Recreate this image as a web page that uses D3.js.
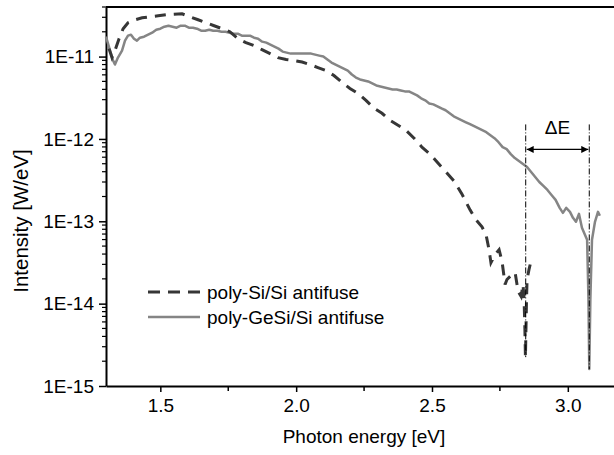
<!DOCTYPE html>
<html><head><meta charset="utf-8">
<script src="https://cdn.jsdelivr.net/npm/d3@7"></script>
<style>
html,body{margin:0;padding:0;background:#fff;}
svg{display:block;font-family:"Liberation Sans",Arial,Helvetica,sans-serif;}
</style></head>
<body>
<svg id="chart" width="614" height="455"></svg>
<script>
// ---- data ----
const xTicks = [1.5, 2.0, 2.5, 3.0];
const xTickLabels = ["1.5", "2.0", "2.5", "3.0"];
const xMinorTicks = [1.75, 2.25, 2.75];
const yTicks = [1e-11, 1e-12, 1e-13, 1e-14, 1e-15];
const yTickLabels = ["1E-11", "1E-12", "1E-13", "1E-14", "1E-15"];

const seriesNames = ["poly-Si/Si antifuse", "poly-GeSi/Si antifuse"];

// poly-Si/Si antifuse (dashed)
const siEnergy = [1.311,1.322,1.333,1.348,1.363,1.381,1.407,1.433,1.462,1.492,1.521,1.550,1.580,1.609,1.639,1.668,1.698,1.727,1.756,1.786,1.815,1.845,1.874,1.904,1.933,1.963,1.992,2.022,2.051,2.080,2.110,2.139,2.169,2.198,2.228,2.257,2.287,2.316,2.345,2.375,2.404,2.434,2.463,2.493,2.522,2.552,2.581,2.610,2.640,2.662,2.684,2.699,2.710,2.717,2.732,2.747,2.758,2.769,2.776,2.791,2.806,2.817,2.828,2.835,2.839,2.842,2.844,2.848,2.850,2.857,2.864];
const siIntensity = [1.249e-11,9.72e-12,1.182e-11,1.650e-11,2.180e-11,2.576e-11,2.800e-11,2.960e-11,3.044e-11,3.130e-11,3.218e-11,3.263e-11,3.308e-11,3.044e-11,2.800e-11,2.576e-11,2.369e-11,2.180e-11,2.005e-11,1.650e-11,1.476e-11,1.358e-11,1.215e-11,1.087e-11,9.72e-12,9.20e-12,8.95e-12,8.58e-12,8.00e-12,7.36e-12,6.77e-12,5.89e-12,4.85e-12,4.10e-12,3.57e-12,2.94e-12,2.35e-12,2.05e-12,1.685e-12,1.466e-12,1.276e-12,1.021e-12,7.95e-13,6.54e-13,5.09e-13,3.96e-13,3.09e-13,2.15e-13,1.377e-13,1.042e-13,8.58e-14,6.87e-14,4.52e-14,3.15e-14,3.94e-14,4.52e-14,3.24e-14,1.708e-14,1.963e-14,2.195e-14,2.385e-14,1.406e-14,1.224e-14,1.708e-14,1.125e-14,4.88e-15,2.24e-15,1.125e-14,1.963e-14,2.59e-14,3.24e-14];

// poly-GeSi/Si antifuse (solid)
const gesiEnergy = [1.300,1.315,1.326,1.333,1.344,1.359,1.370,1.381,1.392,1.403,1.414,1.425,1.440,1.455,1.470,1.485,1.500,1.515,1.530,1.545,1.560,1.575,1.590,1.605,1.620,1.635,1.650,1.665,1.680,1.695,1.710,1.725,1.740,1.755,1.770,1.785,1.800,1.815,1.830,1.845,1.860,1.875,1.890,1.905,1.920,1.935,1.950,1.965,1.980,1.995,2.010,2.025,2.040,2.055,2.070,2.085,2.100,2.115,2.130,2.145,2.160,2.175,2.190,2.205,2.220,2.235,2.250,2.265,2.280,2.295,2.310,2.325,2.340,2.355,2.370,2.385,2.400,2.415,2.430,2.445,2.460,2.475,2.490,2.505,2.520,2.535,2.550,2.565,2.580,2.595,2.610,2.625,2.640,2.655,2.670,2.685,2.700,2.715,2.730,2.745,2.760,2.775,2.790,2.805,2.820,2.835,2.850,2.865,2.880,2.895,2.910,2.925,2.940,2.955,2.970,2.982,2.994,3.008,3.019,3.030,3.041,3.052,3.063,3.071,3.076,3.079,3.083,3.089,3.100,3.111,3.118];
const gesiIntensity = [1.745e-11,1.182e-11,8.95e-12,8.00e-12,9.72e-12,1.182e-11,1.561e-11,1.794e-11,1.845e-11,1.650e-11,1.561e-11,1.697e-11,1.745e-11,1.845e-11,1.950e-11,2.120e-11,2.180e-11,2.304e-11,2.369e-11,2.304e-11,2.241e-11,2.369e-11,2.369e-11,2.241e-11,2.241e-11,2.180e-11,2.062e-11,2.062e-11,2.120e-11,2.062e-11,2.062e-11,2.005e-11,2.005e-11,1.950e-11,1.897e-11,1.897e-11,1.794e-11,1.794e-11,1.794e-11,1.697e-11,1.650e-11,1.518e-11,1.476e-11,1.396e-11,1.321e-11,1.249e-11,1.149e-11,1.118e-11,1.087e-11,1.087e-11,1.087e-11,1.087e-11,1.087e-11,1.087e-11,1.057e-11,1.028e-11,1.000e-11,9.20e-12,8.46e-12,8.00e-12,7.57e-12,7.16e-12,6.77e-12,6.06e-12,5.57e-12,5.27e-12,5.13e-12,4.99e-12,4.72e-12,4.46e-12,4.34e-12,4.22e-12,4.10e-12,3.99e-12,3.99e-12,3.88e-12,3.78e-12,3.78e-12,3.57e-12,3.38e-12,3.11e-12,2.94e-12,2.70e-12,2.63e-12,2.49e-12,2.35e-12,2.23e-12,2.05e-12,1.883e-12,1.781e-12,1.685e-12,1.594e-12,1.508e-12,1.426e-12,1.349e-12,1.276e-12,1.207e-12,1.110e-12,1.021e-12,9.13e-13,7.95e-13,7.52e-13,6.54e-13,5.85e-13,5.38e-13,4.95e-13,4.56e-13,3.96e-13,3.45e-13,3.00e-13,2.69e-13,2.40e-13,2.09e-13,1.819e-13,1.456e-13,1.267e-13,1.456e-13,1.302e-13,1.102e-13,9.86e-14,1.232e-13,8.35e-14,6.87e-14,5.97e-14,1.125e-14,1.605e-15,1.125e-14,5.97e-14,9.86e-14,1.302e-13,1.165e-13];

// ΔE annotation
const deltaE = [2.845, 3.079];
const deltaETop = 1.5e-12;
const deltaEBottom = [2.24e-15, 1.605e-15];
const deltaEArrowY = 7.46e-13;
const deltaELabel = "ΔE";

const xLabel = "Photon energy [eV]";
const yLabel = "Intensity [W/eV]";

// ---- chart ----
const svg = d3.select("#chart");
const mLeft = 106, mRight = 614, mTop = 7, mBottom = 386;
const x = d3.scaleLinear().domain([1.3, 3.17]).range([mLeft, mRight]);
const y = d3.scaleLog().domain([1e-15, 4e-11]).range([mBottom, mTop]);

const fs = 19;
const ff = "Liberation Sans, Arial, sans-serif";

// x axis
const xAxis = d3.axisBottom(x).tickValues(xTicks).tickFormat((d,i)=>xTickLabels[i]).tickSize(6).tickPadding(7).tickSizeOuter(0);
const gx = svg.append("g").attr("transform",`translate(0,${mBottom})`).call(xAxis);
gx.select(".domain").attr("stroke","#000").attr("stroke-width",2);
gx.selectAll(".tick line").attr("stroke","#000").attr("stroke-width",1.5);
gx.selectAll(".tick text").attr("font-size",fs).attr("fill","#000").attr("font-family",ff);
gx.selectAll(".minor").data(xMinorTicks).enter().append("line")
  .attr("x1",d=>x(d)).attr("x2",d=>x(d)).attr("y1",0).attr("y2",5)
  .attr("stroke","#000").attr("stroke-width",1.5);

// y axis
const yAxis = d3.axisLeft(y).tickValues(yTicks).tickFormat((d,i)=>yTickLabels[i]).tickSize(7).tickPadding(5).tickSizeOuter(0);
const gy = svg.append("g").attr("transform",`translate(${mLeft},0)`).call(yAxis);
gy.select(".domain").attr("stroke","#000").attr("stroke-width",2);
gy.selectAll(".tick line").attr("stroke","#000").attr("stroke-width",1.5);
gy.selectAll(".tick text").attr("font-size",fs).attr("fill","#000").attr("font-family",ff);
const yMinor = y.ticks().filter(d => Math.abs(Math.log10(d) - Math.round(Math.log10(d))) > 1e-6);
gy.selectAll(".minor").data(yMinor).enter().append("line")
  .attr("x1",-4).attr("x2",0).attr("y1",d=>y(d)).attr("y2",d=>y(d))
  .attr("stroke","#000").attr("stroke-width",1.2);

// top border
svg.append("line").attr("x1",mLeft).attr("x2",mRight).attr("y1",mTop).attr("y2",mTop)
  .attr("stroke","#000").attr("stroke-width",2);

// curves
const siData = siEnergy.map((e,i)=>[e, siIntensity[i]]);
const gesiData = gesiEnergy.map((e,i)=>[e, gesiIntensity[i]]);
const line = d3.line().x(d=>x(d[0])).y(d=>y(d[1]));

svg.append("path").datum(gesiData).attr("d",line)
  .attr("fill","none").attr("stroke","#858585").attr("stroke-width",2.5).attr("stroke-linejoin","round");
svg.append("path").datum(siData).attr("d",line)
  .attr("fill","none").attr("stroke","#363636").attr("stroke-width",3).attr("stroke-dasharray","11,8");

// ΔE annotation
deltaE.forEach((e,i)=>{
  svg.append("line").attr("x1",x(e)).attr("x2",x(e)).attr("y1",y(deltaETop)).attr("y2",y(deltaEBottom[i]))
    .attr("stroke","#000").attr("stroke-width",1).attr("stroke-dasharray","6,2,1,2");
});
const defs = svg.append("defs");
defs.append("marker").attr("id","ah").attr("viewBox","0 0 10 10").attr("refX",10).attr("refY",5)
  .attr("markerWidth",9).attr("markerHeight",7).attr("markerUnits","userSpaceOnUse").attr("orient","auto-start-reverse")
  .append("path").attr("d","M0,0 L10,5 L0,10 z").attr("fill","#000");
svg.append("line").attr("x1",x(deltaE[0])+1).attr("x2",x(deltaE[1])-1)
  .attr("y1",y(deltaEArrowY)).attr("y2",y(deltaEArrowY))
  .attr("stroke","#000").attr("stroke-width",1.2)
  .attr("marker-start","url(#ah)").attr("marker-end","url(#ah)");
svg.append("text").attr("x",(x(deltaE[0])+x(deltaE[1]))/2).attr("y",y(deltaETop)+10)
  .attr("text-anchor","middle").attr("font-size",fs).attr("font-family",ff).text(deltaELabel);

// legend
const lg = svg.append("g");
const legY = [292, 317];
lg.append("line").attr("x1",148).attr("x2",200).attr("y1",legY[0]).attr("y2",legY[0])
  .attr("stroke","#363636").attr("stroke-width",3).attr("stroke-dasharray","12,8");
lg.append("line").attr("x1",148).attr("x2",200).attr("y1",legY[1]).attr("y2",legY[1])
  .attr("stroke","#858585").attr("stroke-width",2.5);
seriesNames.forEach((n,i)=>{
  lg.append("text").attr("x",207).attr("y",legY[i]+6.5).attr("font-size",fs).attr("font-family",ff).text(n);
});

// axis titles
svg.append("text").attr("x",364).attr("y",443).attr("text-anchor","middle").attr("font-size",fs).attr("font-family",ff).text(xLabel);
svg.append("text").attr("transform",`translate(28,221) rotate(-90)`)
  .attr("text-anchor","middle").attr("font-size",20.5).attr("font-family",ff).text(yLabel);
</script>
</body></html>
